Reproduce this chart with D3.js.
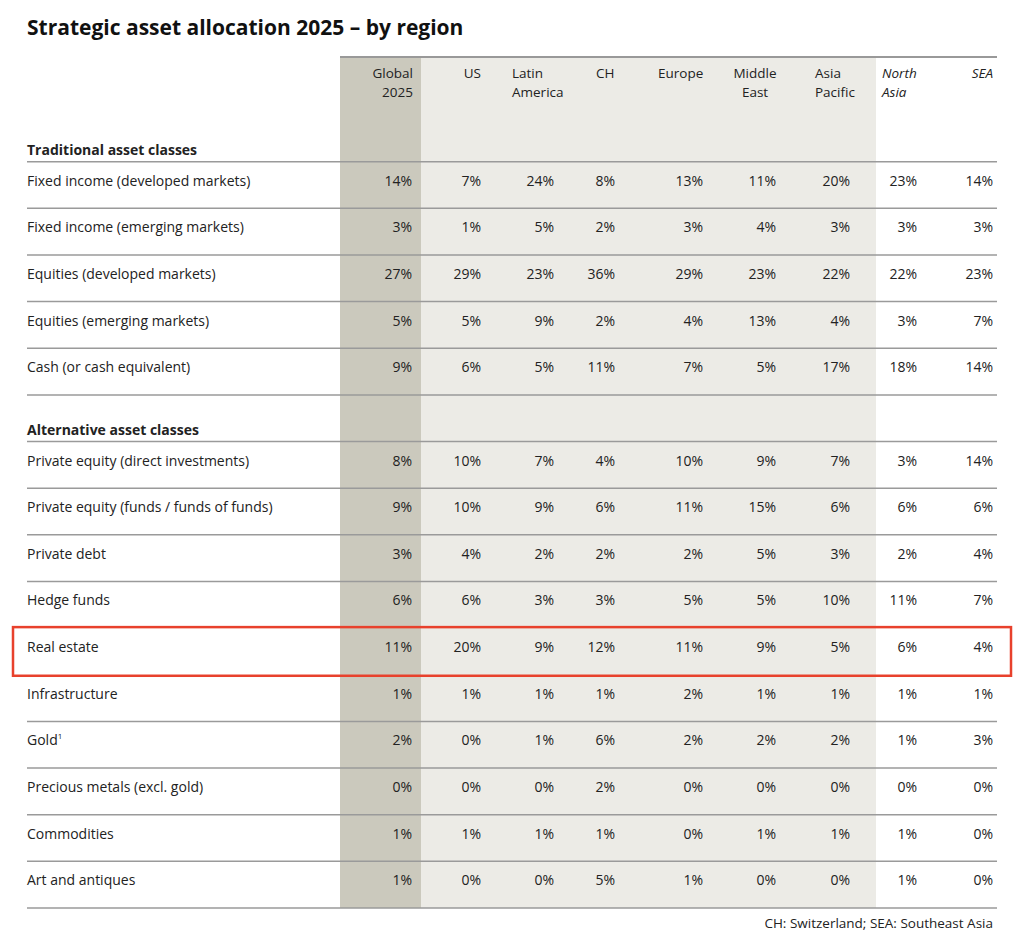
<!DOCTYPE html>
<html><head><meta charset="utf-8">
<script src="https://cdn.jsdelivr.net/npm/d3@7"></script>
<style>body{margin:0;background:#fff}text{font-family:"Open Sans",sans-serif;fill:#222}</style>
</head><body><svg width="1024" height="943"></svg>
<script>
const regions = ["Global 2025", "US", "Latin America", "CH", "Europe", "Middle East", "Asia Pacific", "North Asia", "SEA"];
const rowLabels = ["Traditional asset classes", "Fixed income (developed markets)", "Fixed income (emerging markets)",
  "Equities (developed markets)", "Equities (emerging markets)", "Cash (or cash equivalent)", "Alternative asset classes",
  "Private equity (direct investments)", "Private equity (funds  /  funds of funds)", "Private debt", "Hedge funds",
  "Real estate", "Infrastructure", "Gold", "Precious metals (excl. gold)", "Commodities", "Art and antiques"];
const sectionRows = [0, 6];
const values = [
  null,
  [14, 7, 24, 8, 13, 11, 20, 23, 14],
  [3, 1, 5, 2, 3, 4, 3, 3, 3],
  [27, 29, 23, 36, 29, 23, 22, 22, 23],
  [5, 5, 9, 2, 4, 13, 4, 3, 7],
  [9, 6, 5, 11, 7, 5, 17, 18, 14],
  null,
  [8, 10, 7, 4, 10, 9, 7, 3, 14],
  [9, 10, 9, 6, 11, 15, 6, 6, 6],
  [3, 4, 2, 2, 2, 5, 3, 2, 4],
  [6, 6, 3, 3, 5, 5, 10, 11, 7],
  [11, 20, 9, 12, 11, 9, 5, 6, 4],
  [1, 1, 1, 1, 2, 1, 1, 1, 1],
  [2, 0, 1, 6, 2, 2, 2, 1, 3],
  [0, 0, 0, 2, 0, 0, 0, 0, 0],
  [1, 1, 1, 1, 0, 1, 1, 1, 0],
  [1, 0, 0, 5, 1, 0, 0, 1, 0]
];
const highlightRow = "Real estate";

// layout
const colRight = [412, 481, 554, 615, 703, 776, 850, 917, 993];
const headX = [413, 481, 512, 596, 658, 755, 815, 882, 993];
const headAnchor = ["end", "end", "start", "start", "start", "middle", "start", "start", "end"];
const svg = d3.select("svg");
const y = d3.scaleBand().domain(d3.range(rowLabels.length)).range([115, 908]);

svg.append("text").attr("x", 27).attr("y", 35).attr("font-size", 21).attr("font-weight", 700)
  .style("fill", "#111").text("Strategic asset allocation 2025 – by region");

svg.append("rect").attr("x", 421).attr("y", 57).attr("width", 455).attr("height", 851).attr("fill", "#ecebe6");
svg.append("rect").attr("x", 340).attr("y", 57).attr("width", 81).attr("height", 851).attr("fill", "#cbc9bd");
svg.append("line").attr("x1", 340).attr("x2", 997).attr("y1", 57).attr("y2", 57).attr("stroke", "#999").attr("stroke-width", 2);

regions.forEach((r, i) => {
  const t = svg.append("text").attr("x", headX[i]).attr("y", 78).attr("font-size", 13.5)
    .attr("text-anchor", headAnchor[i]).style("font-style", i >= 7 ? "italic" : null);
  const parts = r.split(" ");
  parts.forEach((p, k) => t.append("tspan").attr("x", headX[i]).attr("dy", k ? 19 : 0).text(p));
});

// row separators
rowLabels.forEach((lab, i) => {
  if (lab === highlightRow || rowLabels[i + 1] === highlightRow) return;
  svg.append("line").attr("x1", 27).attr("x2", 997)
    .attr("y1", y(i) + y.bandwidth()).attr("y2", y(i) + y.bandwidth())
    .attr("stroke", "#9a9a9a").attr("stroke-width", 1.5);
});

const rows = svg.selectAll("g.row").data(rowLabels).join("g").attr("class", "row")
  .attr("transform", (d, i) => `translate(0,${y(i) + (sectionRows.includes(i) ? 40 : 24)})`);
rows.append("text").attr("x", 27).attr("font-size", 14)
  .attr("font-weight", (d, i) => sectionRows.includes(i) ? 700 : 400)
  .text(d => d).filter(d => d === "Gold").append("tspan").attr("dy", -6).attr("font-size", 8).text("1");
rows.selectAll("text.v").data((d, i) => values[i] || []).join("text").attr("class", "v")
  .attr("x", (d, j) => colRight[j]).attr("text-anchor", "end").attr("font-size", 14).text(d => d + "%");

const hi = rowLabels.indexOf(highlightRow);
svg.append("rect").attr("x", 13).attr("y", y(hi) - 1).attr("width", 998).attr("height", y.bandwidth() + 2)
  .attr("fill", "none").attr("stroke", "#e8412c").attr("stroke-width", 2.5);

svg.append("text").attr("x", 993).attr("y", 928).attr("text-anchor", "end").attr("font-size", 13.5)
  .text("CH: Switzerland; SEA: Southeast Asia");
</script></body></html>
